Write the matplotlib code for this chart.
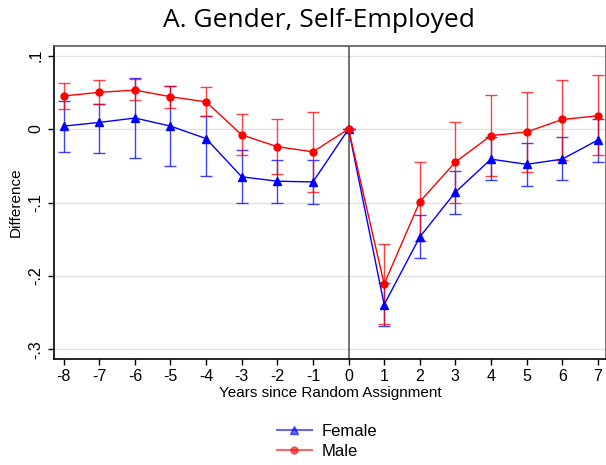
import numpy as np
import matplotlib.pyplot as plt
from matplotlib.lines import Line2D

years = [-8, -7, -6, -5, -4, -3, -2, -1, 0, 1, 2, 3, 4, 5, 6, 7]

# point estimates and 95% CI bounds
female = [0.004, 0.009, 0.015, 0.004, -0.013, -0.065, -0.071, -0.072, 0.0,
          -0.239, -0.147, -0.086, -0.041, -0.048, -0.041, -0.015]
female_hi = [0.038, 0.034, 0.070, 0.059, 0.018, -0.029, -0.042, -0.042, 0.0,
             -0.209, -0.117, -0.057, -0.011, -0.019, -0.011, 0.014]
female_lo = [-0.031, -0.033, -0.040, -0.050, -0.064, -0.101, -0.101, -0.102, 0.0,
             -0.268, -0.176, -0.116, -0.070, -0.078, -0.070, -0.045]

male = [0.045, 0.050, 0.053, 0.044, 0.037, -0.008, -0.024, -0.031, 0.0,
        -0.211, -0.099, -0.045, -0.009, -0.004, 0.013, 0.018]
male_hi = [0.063, 0.067, 0.068, 0.059, 0.057, 0.020, 0.014, 0.023, 0.0,
           -0.156, -0.045, 0.010, 0.046, 0.051, 0.067, 0.074]
male_lo = [0.027, 0.034, 0.039, 0.029, 0.018, -0.035, -0.061, -0.086, 0.0,
           -0.266, -0.153, -0.100, -0.064, -0.059, -0.042, -0.036]

yticks = [0.1, 0, -0.1, -0.2, -0.3]
ytick_labels = [".1", "0", "-.1", "-.2", "-.3"]

plt.rcParams['font.family'] = ['Liberation Sans', 'DejaVu Sans']

fig = plt.figure(figsize=(6.06, 4.65), dpi=100)
ax = fig.add_axes([0.0886, 0.228, 0.9114, 0.673])

for y in yticks:
    ax.axhline(y, color='#e2e2e2', lw=1.0, zorder=0)
ax.axvline(0, color='#5a5a5a', lw=1.2, zorder=1)

def draw(vals, lo, hi, color, marker, ms):
    v = np.array(vals)
    err = [v - np.array(lo), np.array(hi) - v]
    ax.errorbar(years, v, yerr=err, fmt='none', ecolor=color, elinewidth=1.0,
                capsize=4, capthick=1.0, alpha=0.75, zorder=2)
    ax.plot(years, v, color=color, lw=1.0, marker=marker, ms=ms, zorder=3)

draw(female, female_lo, female_hi, '#0000ff', '^', 5.5)
draw(male, male_lo, male_hi, '#ff0000', 'o', 5)

ax.set_xlim(-8.28, 7.23)
ax.set_ylim(-0.313, 0.113)
ax.set_xticks(years)
ax.set_xticklabels([str(x) for x in years], fontsize=11.5)
ax.set_yticks(yticks)
ax.set_yticklabels(ytick_labels, fontsize=11.5, rotation=90, va='center')
ax.tick_params(axis='both', direction='out', length=4, width=1, color='black')

for side in ['top', 'right']:
    ax.spines[side].set_color('#5a5a5a')
    ax.spines[side].set_linewidth(1.2)
for side in ['left', 'bottom']:
    ax.spines[side].set_color('black')
    ax.spines[side].set_linewidth(1.2)

ax.set_xlabel("Years since Random Assignment", fontsize=11, labelpad=1)
ax.set_ylabel("Difference", fontsize=11, labelpad=4)

fig.text(0.527, 0.955, "A. Gender, Self-Employed", ha='center', va='center',
         fontsize=19, family=['Open Sans', 'DejaVu Sans'])

handles = [
    Line2D([], [], color='#0000ff', lw=1.5, alpha=0.6, marker='^', ms=5.5,
           markerfacecolor='#0000ff', markeredgecolor='#0000ff'),
    Line2D([], [], color='#ff0000', lw=1.5, alpha=0.6, marker='o', ms=5,
           markerfacecolor='#ff0000', markeredgecolor='#ff0000'),
]
fig.legend(handles, ["Female", "Male"], loc='center', bbox_to_anchor=(0.54, 0.05),
           frameon=False, fontsize=12, handlelength=2.1, labelspacing=0.3,
           handletextpad=0.6)

fig.savefig('out.png', dpi=100)
